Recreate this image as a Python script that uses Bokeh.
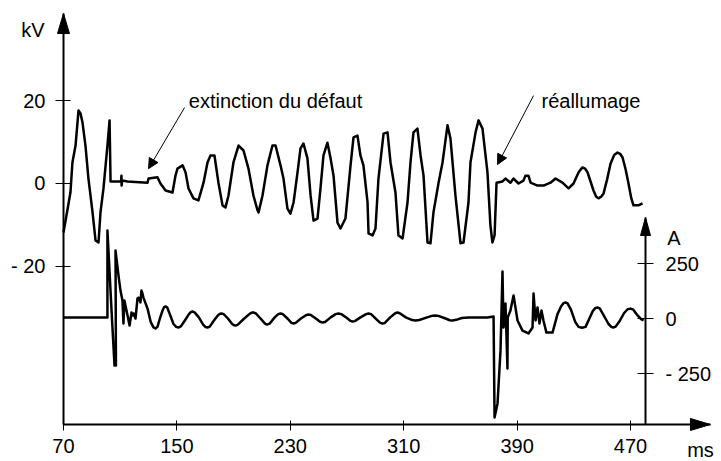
from bokeh.plotting import figure
from bokeh.models import Range1d, LinearAxis, FixedTicker, Arrow, NormalHead, Label
from bokeh.core.properties import value
from bokeh.embed import file_html
from bokeh.resources import INLINE

FONT = "Liberation Sans"
FS = "20px"

# ---------------- data ----------------
volt_ms = [70.0, 74.9, 76.3, 78.5, 80.6, 82.0, 83.4, 85.5, 87.6, 90.5, 92.6, 94.7, 96.1, 98.2,
           101.0, 102.5, 103.2, 110.2, 110.6, 110.9, 111.0, 111.4, 115.2, 129.3, 130.0, 136.3,
           138.4, 142.0, 146.9, 149.0, 150.4, 154.0, 156.1, 158.2, 161.7, 165.2, 168.8, 171.6,
           173.7, 176.5, 179.3, 182.2, 184.3, 186.4, 189.9, 193.5, 197.0, 200.5, 204.0, 206.9,
           207.6, 210.4, 213.9, 217.4, 219.6, 223.1, 225.2, 228.0, 230.1, 232.3, 235.1, 237.2,
           239.3, 242.1, 244.3, 246.4, 249.2, 251.3, 253.4, 256.2, 258.4, 260.5, 263.3, 265.4,
           268.9, 272.5, 274.6, 277.4, 279.5, 281.6, 284.5, 285.2, 288.0, 290.1, 292.2, 295.8,
           298.6, 300.7, 304.2, 306.3, 309.2, 312.7, 314.8, 316.9, 319.7, 321.9, 324.0, 326.8,
           328.9, 331.0, 334.6, 337.4, 340.9, 343.0, 346.5, 350.1, 352.2, 355.7, 357.1, 360.7,
           362.8, 365.6, 369.1, 371.2, 372.6, 374.1, 375.5, 379.7, 381.8, 385.3, 387.5, 391.0,
           394.5, 395.9, 398.0, 399.5, 404.4, 408.6, 413.6, 417.1, 422.0, 426.3, 429.8, 433.5,
           436.1, 438.0, 439.7, 442.0, 443.9, 445.8, 447.4, 449.3, 451.0, 453.5, 455.9, 458.5,
           460.8, 462.7, 464.4, 466.5, 468.6, 470.5, 472.1, 475.6, 478.5]
volt_kv = [-11.9, -2.2, 5.1, 9.2, 17.7, 17.0, 14.8, 9.2, 1.2, -7.0, -13.8, -14.3, -7.0, -1.2,
           9.2, 15.3, 0.5, 0.5, 0.5, 1.9, -0.5, 0.7, 0.5, 0.2, 1.2, 1.5,
           0.0, -1.7, -2.2, 1.9, 3.6, 4.4, 2.7, -1.2, -3.6, -4.1, 0.2, 5.1,
           6.8, 6.8, 0.2, -5.3, -5.8, -2.9, 5.1, 9.2, 8.0, 3.6, -2.9, -6.5,
           -7.0, -2.9, 4.4, 9.2, 9.2, 4.4, 1.2, -6.1, -7.3, -4.6, 2.7, 8.5,
           9.7, 6.1, -2.9, -9.0, -8.5, -1.2, 6.8, 9.9, 6.1, 1.9, -9.5, -10.9,
           -8.5, 4.4, 11.2, 11.6, 6.8, 4.4, -4.6, -12.1, -12.6, -10.9, 1.2, 12.1,
           12.4, 5.1, -2.2, -12.6, -13.3, -4.6, 5.1, 12.4, 13.3, 6.8, 1.9, -14.3,
           -14.5, -7.0, 0.2, 5.1, 14.1, 10.9, -2.9, -14.5, -14.3, -4.6, 5.1, 12.4,
           15.3, 13.3, 2.7, -10.2, -14.3, -12.6, 0.2, 0.5, 1.2, 0.2, 1.2, 0.0,
           0.7, 1.9, 1.9, 0.2, -0.5, -0.5, 0.2, 1.2, 0.2, -1.2, 0.0, 2.8,
           3.9, 3.6, 2.7, 0.3, -1.7, -3.2, -3.6, -3.2, -2.4, 1.0, 4.8, 6.9,
           7.5, 7.2, 6.3, 3.5, 0.0, -3.5, -5.3, -5.3, -4.8]

curr_ms = [70.0, 101.0, 101.0, 103.9, 106.0, 107.0, 106.7, 108.8, 110.2, 111.6, 112.3, 113.0,
           113.7, 115.2, 116.6, 118.0, 118.7, 119.4, 120.8, 122.2, 122.9, 124.3, 125.0, 125.7,
           126.4, 129.3, 131.5, 133.5, 134.9, 136.3, 138.0, 139.8, 141.0, 142.0, 143.2, 145.0,
           147.6, 149.5, 151.1, 152.8, 155.5, 158.5, 160.0, 161.0, 162.5, 165.5, 168.5, 170.2,
           171.6, 173.2, 176.0, 179.0, 180.5, 181.5, 183.0, 186.0, 189.0, 190.5, 191.4, 193.0,
           197.5, 201.5, 203.0, 204.0, 205.5, 209.0, 212.0, 213.2, 213.9, 215.5, 219.0, 221.5,
           223.1, 224.5, 228.0, 230.8, 232.3, 233.8, 237.5, 241.0, 242.8, 244.5, 248.0, 251.0,
           252.7, 254.5, 258.5, 262.0, 264.0, 266.0, 270.0, 272.5, 273.9, 275.5, 279.5, 283.5,
           285.2, 287.0, 291.0, 293.5, 295.0, 296.5, 300.5, 304.0, 305.6, 307.2, 311.5, 316.0,
           318.3, 321.0, 326.5, 330.5, 332.4, 334.5, 339.5, 342.5, 344.4, 347.0, 351.0, 356.0,
           362.1, 369.1, 373.4, 374.1, 376.2, 378.3, 379.7, 380.4, 381.8, 383.2, 383.4, 385.3,
           387.5, 390.3, 393.8, 398.0, 400.9, 401.6, 403.0, 404.4, 405.8, 407.2, 408.6, 410.7,
           415.0, 418.5, 421.0, 422.8, 424.1, 425.5, 428.0, 431.0, 433.3, 435.8, 438.3, 441.0,
           443.5, 445.3, 446.7, 448.3, 451.5, 454.5, 456.5, 457.8, 459.5, 462.5, 465.5, 468.0,
           470.0, 472.0, 475.0, 477.5, 479.2]
curr_a = [5, 5, 400, 36, -214, -214, 309, 195, 127, 82, -23, 82,
          59, 14, -32, 27, 14, 23, 0, 91, 95, 73, 127, 114,
          95, 45, -15, -40, -45, -38, 0, 35, 52, 55, 50, 20,
          -25, -38, -41, -36, -10, 20, 30, 32, 28, 5, -28, -39,
          -41, -37, -10, 15, 22, 23, 20, 0, -25, -31, -32, -28,
          0, 22, 27, 27, 24, 0, -22, -27, -27, -23, 5, 20,
          23, 21, 0, -20, -23, -20, 0, 15, 18, 16, 0, -15,
          -18, -16, 5, 20, 23, 20, 2, -11, -14, -12, 5, 20,
          23, 20, -5, -20, -23, -21, 5, 24, 27, 24, 5, -7,
          -9, -7, 5, 13, 14, 12, 0, -8, -9, -6, 2, 5,
          4, 5, 9, -450, -386, -145, 214, -41, 68, -227, 5, 36,
          105, -9, -55, -68, -41, 114, -9, 50, -23, 36, -9, -64,
          -64, 20, 55, 70, 73, 70, 40, -15, -38, -42, -38, 0,
          35, 48, 50, 46, 10, -25, -38, -41, -37, -10, 25, 42,
          45, 40, 14, -3, -9]

x_ticks = [70, 150, 230, 310, 390, 470]
kv_ticks = [-20, 0, 20]
kv_tick_labels = {-20: "- 20", 0: "0", 20: "20"}
a_ticks = [-250, 0, 250]
a_tick_labels = {-250: "- 250", 0: "0", 250: "250"}

notes_text = ["extinction du défaut", "réallumage"]
notes_x = [219.6, 442.1]
notes_y = [20.1, 20.1]
pointer_x0 = [155.4, 401.6]
pointer_y0 = [18.4, 21.3]
pointer_x1 = [130.0, 376.2]
pointer_y1 = [3.6, 4.6]

units_text = ["kV", "A", "ms"]
units_x = [48.5, 500.7, 528.8]
units_y = [37.3, -13.3, -64.6]
units_align = ["center", "center", "right"]

# ---------------- layout constants ----------------
X_RANGE = (25.56, 534.2)
KV_RANGE = (-67.39, 44.36)
A_RANGE = (-650.0, 1445.5)
X_AXIS_KV = -58.42
Y_AXIS_MS = 70.0
X_TIP = 526.4
KV_TIP = 41.2
A_AXIS_MS = 480.6
A_TIP = 459.0
A_BOTTOM = -481.8
PX_MS = 1.4175
PX_KV = 4.125
PX_A = 0.22

p = figure(width=721, height=461, x_range=Range1d(*X_RANGE), y_range=Range1d(*KV_RANGE),
           output_backend="svg", toolbar_location=None, min_border=0)
p.extra_y_ranges = {"amps": Range1d(*A_RANGE)}
p.outline_line_color = None
p.xgrid.visible = False
p.ygrid.visible = False
p.background_fill_color = "white"
p.border_fill_color = "white"


def style_axis(ax, ticks, overrides, tin, tout, standoff):
    ax.ticker = FixedTicker(ticks=ticks)
    if overrides:
        ax.major_label_overrides = overrides
    ax.axis_line_width = 2
    ax.axis_line_color = "black"
    ax.major_tick_line_color = "black"
    ax.major_tick_line_width = 1
    ax.major_tick_in = tin
    ax.major_tick_out = tout
    ax.minor_tick_line_color = None
    ax.major_label_text_font = FONT
    ax.major_label_text_font_size = FS
    ax.major_label_text_color = "black"
    ax.major_label_standoff = standoff


xa = p.xaxis[0]
xa.fixed_location = X_AXIS_KV
xa.bounds = (Y_AXIS_MS, X_TIP)
style_axis(xa, x_ticks, None, 4, 6, 9)

ya = p.yaxis[0]
ya.fixed_location = Y_AXIS_MS
ya.bounds = (X_AXIS_KV, KV_TIP)
style_axis(ya, kv_ticks, kv_tick_labels, 7, 8, 10)

ra = LinearAxis(y_range_name="amps", fixed_location=A_AXIS_MS, bounds=(A_BOTTOM, A_TIP))
style_axis(ra, a_ticks, a_tick_labels, 8, 8, 12)
p.add_layout(ra, "right")

# arrow heads of the axes
L, HW = 20, 6
p.patches(
    [[Y_AXIS_MS, Y_AXIS_MS - HW / PX_MS, Y_AXIS_MS + HW / PX_MS],
     [X_TIP, X_TIP - L / PX_MS, X_TIP - L / PX_MS]],
    [[KV_TIP, KV_TIP - L / PX_KV, KV_TIP - L / PX_KV],
     [X_AXIS_KV, X_AXIS_KV + HW / PX_KV, X_AXIS_KV - HW / PX_KV]],
    fill_color="black", line_color="black", line_width=1)
p.patch([A_AXIS_MS, A_AXIS_MS - 5 / PX_MS, A_AXIS_MS + 5 / PX_MS],
        [A_TIP, A_TIP - 18 / PX_A, A_TIP - 18 / PX_A],
        y_range_name="amps", fill_color="black", line_color="black", line_width=1)

# curves
p.line(volt_ms, volt_kv, line_color="black", line_width=2.5, line_join="round")
p.line(curr_ms, curr_a, y_range_name="amps", line_color="black", line_width=2.5, line_join="round")

# annotations
p.text(x=notes_x, y=notes_y, text=notes_text, text_font=value(FONT), text_font_size=value(FS),
       text_align="center", text_baseline="alphabetic", text_color="black")
for x0, y0, x1, y1 in zip(pointer_x0, pointer_y0, pointer_x1, pointer_y1):
    p.add_layout(Arrow(end=NormalHead(size=10, fill_color="black", line_color="black", line_width=1),
                       x_start=x0, y_start=y0, x_end=x1, y_end=y1,
                       line_color="black", line_width=1))

for t, x, y, a in zip(units_text, units_x, units_y, units_align):
    p.add_layout(Label(x=x, y=y, text=t, text_font=FONT, text_font_size=FS,
                       text_align=a, text_baseline="alphabetic", text_color="black"))

open("out.html", "w").write(file_html(p, INLINE))
